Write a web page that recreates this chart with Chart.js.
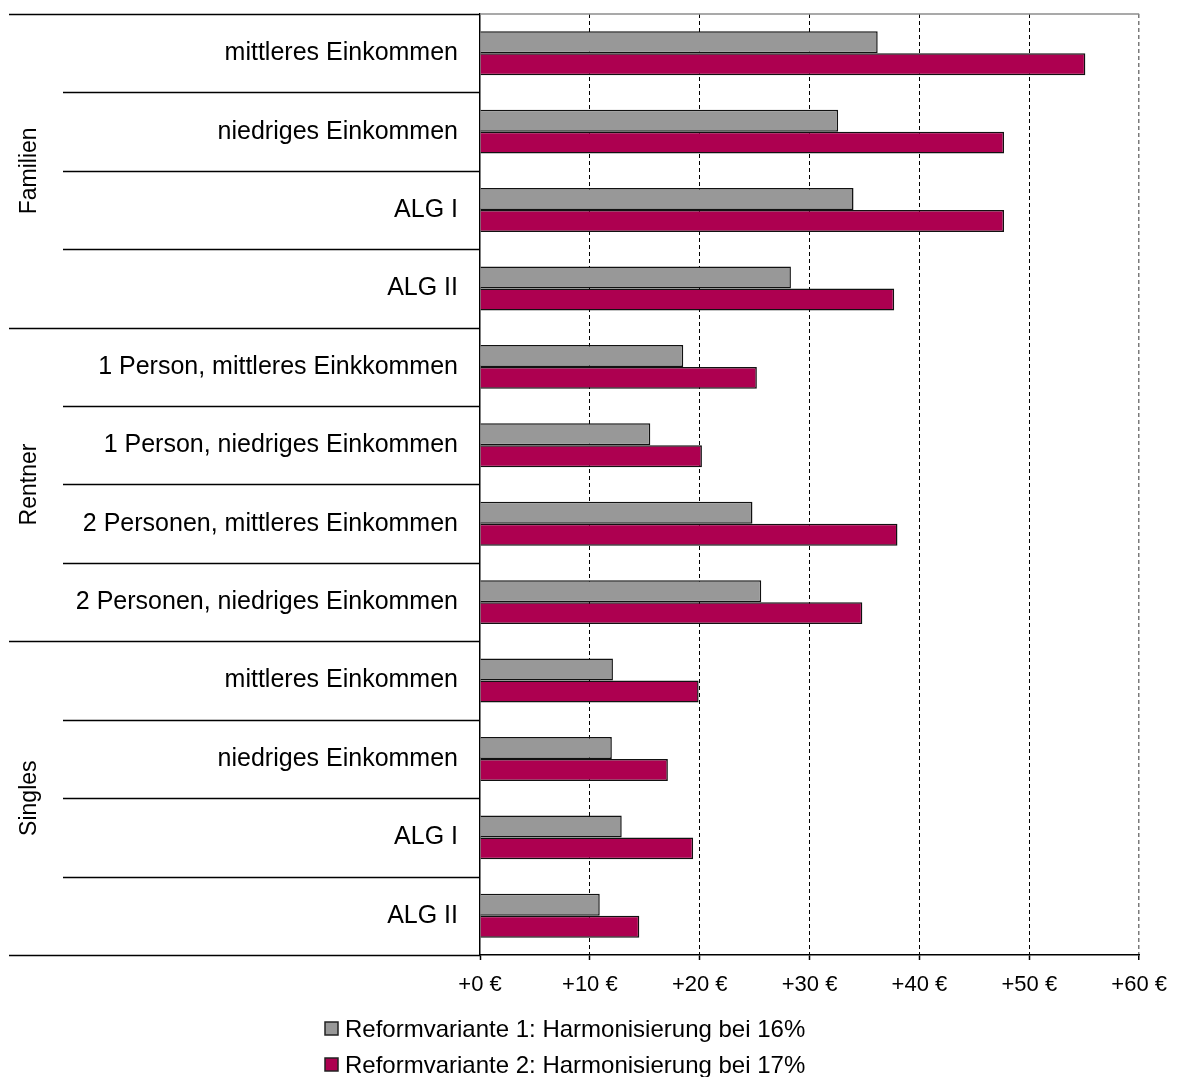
<!DOCTYPE html>
<html>
<head>
<meta charset="utf-8">
<script src="https://cdn.jsdelivr.net/npm/chart.js@4/dist/chart.umd.min.js"></script>
<style>
  html, body { margin: 0; padding: 0; background: #fff; }
  #wrap { width: 1179px; height: 1077px; }
</style>
</head>
<body>
<div id="wrap"><canvas id="myChart" width="1179" height="1077"></canvas></div>
<script>
// chart data
const groups = ['Familien', 'Rentner', 'Singles'];
const groupSizes = [4, 4, 4];
const categories = [
    'mittleres Einkommen', 'niedriges Einkommen', 'ALG I', 'ALG II',
    '1 Person, mittleres Einkkommen', '1 Person, niedriges Einkommen',
    '2 Personen, mittleres Einkommen', '2 Personen, niedriges Einkommen',
    'mittleres Einkommen', 'niedriges Einkommen', 'ALG I', 'ALG II'
];
const seriesNames = [
    'Reformvariante 1: Harmonisierung bei 16%',
    'Reformvariante 2: Harmonisierung bei 17%'
];
const variante1 = [36.2, 32.6, 34.0, 28.3, 18.5, 15.5, 24.8, 25.6, 12.1, 12.0, 12.9, 10.9];
const variante2 = [55.1, 47.7, 47.7, 37.7, 25.2, 20.2, 38.0, 34.8, 19.9, 17.1, 19.4, 14.5];
const xMin = 0, xMax = 60, xStep = 10;

const FONT = 'Liberation Sans, Arial, sans-serif';

// group labels + separator lines at the left, top border, custom legend
const decorations = {
    id: 'decorations',
    afterDraw(chart) {
        const ctx = chart.ctx;
        const area = chart.chartArea;
        const y = chart.scales.y;
        const n = categories.length;
        const half = (y.getPixelForValue(1) - y.getPixelForValue(0)) / 2;

        ctx.save();
        // gray top border of the plot
        ctx.strokeStyle = '#8c8c8c';
        ctx.lineWidth = 1.5;
        ctx.beginPath();
        ctx.moveTo(area.left, area.top);
        ctx.lineTo(area.right, area.top);
        ctx.stroke();

        // separators between categories
        ctx.strokeStyle = '#000';
        ctx.lineWidth = 1.5;
        let groupEnds = [];
        let acc = 0;
        groupSizes.forEach(s => { acc += s; groupEnds.push(acc); });
        for (let i = 0; i <= n; i++) {
            const py = Math.round(y.getPixelForValue(i) - half) + 0.5;
            const isGroup = i === 0 || groupEnds.includes(i);
            ctx.beginPath();
            ctx.moveTo(isGroup ? 9 : 63, py);
            ctx.lineTo(area.left, py);
            ctx.stroke();
        }

        // group labels, rotated
        ctx.fillStyle = '#000';
        ctx.font = '23px ' + FONT;
        ctx.textAlign = 'center';
        ctx.textBaseline = 'middle';
        let start = 0;
        groups.forEach((g, gi) => {
            const end = start + groupSizes[gi] - 1;
            const cy = (y.getPixelForValue(start) + y.getPixelForValue(end)) / 2;
            ctx.save();
            ctx.translate(30, cy);
            ctx.rotate(-Math.PI / 2);
            ctx.fillText(g, 0, 0);
            ctx.restore();
            start += groupSizes[gi];
        });

        // legend, stacked
        ctx.font = '24px ' + FONT;
        ctx.textAlign = 'left';
        ctx.textBaseline = 'middle';
        chart.data.datasets.forEach((ds, i) => {
            const ly = 1029 + i * 36;
            ctx.fillStyle = ds.backgroundColor;
            ctx.fillRect(325, ly - 7, 13, 13);
            ctx.strokeStyle = '#222';
            ctx.lineWidth = 1.5;
            ctx.strokeRect(325, ly - 7, 13, 13);
            ctx.fillStyle = '#000';
            ctx.fillText(ds.label, 345, ly + 1);
        });
        ctx.restore();
    }
};

const ctx = document.getElementById('myChart').getContext('2d');
const myChart = new Chart(ctx, {
    type: 'bar',
    data: {
        labels: categories,
        datasets: [{
            label: seriesNames[0],
            data: variante1,
            backgroundColor: '#989898',
            borderColor: '#111',
            borderWidth: 1.5,
            categoryPercentage: 0.56,
            barPercentage: 1.0
        }, {
            label: seriesNames[1],
            data: variante2,
            backgroundColor: '#ad0050',
            borderColor: '#111',
            borderWidth: 1.5,
            categoryPercentage: 0.56,
            barPercentage: 1.0
        }]
    },
    options: {
        indexAxis: 'y',
        responsive: false,
        animation: false,
        layout: { padding: { top: 14, right: 38, left: 0, bottom: 0 } },
        scales: {
            x: {
                min: xMin,
                max: xMax,
                ticks: {
                    stepSize: xStep,
                    color: '#000',
                    font: { size: 22, family: FONT },
                    padding: 12,
                    maxRotation: 0,
                    callback: v => '+' + v + ' €'
                },
                grid: {
                    color: c => {
                        if (c.tick.value === xMin) return 'rgba(0,0,0,0)';
                        if (c.tick.value === xMax) return '#7a7a7a';
                        return '#000';
                    },
                    lineWidth: c => c.tick.value === xMax ? 1.5 : 1,
                    tickColor: '#000',
                    tickLength: 5,
                    tickWidth: 1.5
                },
                border: {
                    color: '#000',
                    width: 1.5,
                    dash: c => (c.tick && c.tick.value > xMin) ? [4, 3] : []
                },
                afterFit: s => { s.height = 122; }
            },
            y: {
                grid: { display: false, drawTicks: false },
                border: { color: '#000', width: 1.5 },
                ticks: {
                    color: '#000',
                    font: { size: 25, family: FONT },
                    padding: 22
                },
                afterFit: s => {
                    s.width = 480;
                    s.paddingTop = 0;
                    s.paddingBottom = 0;
                }
            }
        },
        plugins: {
            legend: { display: false },
            tooltip: { enabled: false }
        }
    },
    plugins: [decorations]
});
</script>
</body>
</html>
